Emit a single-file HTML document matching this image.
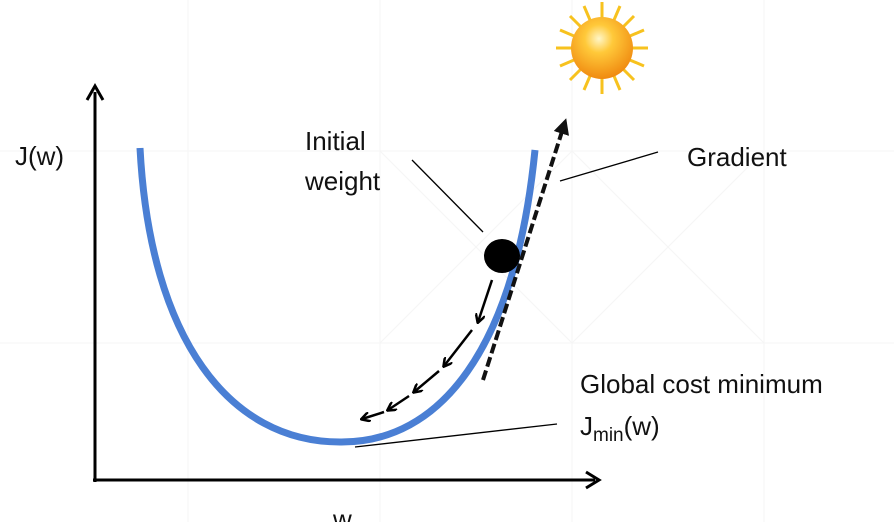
<!DOCTYPE html>
<html><head><meta charset="utf-8"><style>
html,body{margin:0;padding:0;background:#fff;}
svg{display:block;font-family:"Liberation Sans",sans-serif;}
</style></head><body>
<svg width="894" height="522" viewBox="0 0 894 522">
<defs>
<radialGradient id="sunG" cx="45%" cy="35%" r="65%">
<stop offset="0" stop-color="#fff6c8"/><stop offset="0.35" stop-color="#ffc93a"/><stop offset="1" stop-color="#f08a10"/>
</radialGradient>
<marker id="ah" markerWidth="10" markerHeight="10" refX="8" refY="5" orient="auto" markerUnits="userSpaceOnUse"><path d="M0,0 L9,5 L0,10" fill="none" stroke="#000" stroke-width="2.5"/></marker>
<marker id="ahf" markerWidth="16" markerHeight="16" refX="12" refY="8" orient="auto" markerUnits="userSpaceOnUse"><path d="M0,0 L16,8 L0,16 z" fill="#111"/></marker>
</defs>
<g stroke="#f5f5f5" stroke-width="1">
<line x1="188" y1="0" x2="188" y2="522"/><line x1="380" y1="0" x2="380" y2="522"/><line x1="572" y1="0" x2="572" y2="522"/><line x1="764" y1="0" x2="764" y2="522"/>
<line x1="0" y1="151" x2="894" y2="151"/><line x1="0" y1="343" x2="894" y2="343"/>
<line x1="380" y1="151" x2="572" y2="343"/><line x1="572" y1="151" x2="380" y2="343"/>
<line x1="572" y1="151" x2="764" y2="343"/><line x1="764" y1="151" x2="572" y2="343"/>
</g>
<g>
<g stroke="#f7c21e" stroke-width="3">
<line x1="602" y1="2" x2="602" y2="94"/><line x1="556" y1="48" x2="648" y2="48"/>
<line x1="570" y1="16" x2="634" y2="80"/><line x1="634" y1="16" x2="570" y2="80"/>
<line x1="584" y1="6" x2="620" y2="90"/><line x1="620" y1="6" x2="584" y2="90"/>
<line x1="560" y1="30" x2="644" y2="66"/><line x1="644" y1="30" x2="560" y2="66"/>
</g>
<circle cx="602" cy="48" r="31" fill="url(#sunG)"/>
</g>
<g stroke="#000" stroke-width="3" fill="none">
<line x1="95" y1="482" x2="95" y2="92"/>
<path d="M87,100 L95,86 L103,100"/>
<line x1="93" y1="480" x2="595" y2="480"/>
<path d="M586,472 L599,480 L586,488"/>
</g>
<path d="M140,148 C150,340 230,442 340,442 C440,443 515,350 535,150" fill="none" stroke="#4a7fd4" stroke-width="7"/>
<line x1="483" y1="380" x2="565" y2="122" stroke="#111" stroke-width="4" stroke-dasharray="10,4" marker-end="url(#ahf)"/>
<g stroke="#000" stroke-width="2.5" fill="none">
<line x1="492" y1="280" x2="478" y2="322" marker-end="url(#ah)"/>
<line x1="472" y1="330" x2="444" y2="366" marker-end="url(#ah)"/>
<line x1="439" y1="371" x2="414" y2="392" marker-end="url(#ah)"/>
<line x1="409" y1="396" x2="388" y2="410" marker-end="url(#ah)"/>
<line x1="384" y1="412" x2="362" y2="419" marker-end="url(#ah)"/>
</g>
<ellipse cx="502" cy="256" rx="18" ry="17" fill="#000"/>
<g stroke="#000" stroke-width="1.3">
<line x1="412" y1="160" x2="483" y2="232"/>
<line x1="560" y1="181" x2="658" y2="152"/>
<line x1="355" y1="447" x2="557" y2="424"/>
</g>
<g font-size="26" fill="#111">
<text x="15" y="165">J(w)</text>
<text x="305" y="150">Initial</text>
<text x="305" y="190">weight</text>
<text x="687" y="166">Gradient</text>
<text x="580" y="393">Global cost minimum</text>
<text x="580" y="435">J<tspan font-size="19" dy="6">min</tspan><tspan dy="-6">(w)</tspan></text>
<text x="333" y="528">w</text>
</g>
</svg>
</body></html>
